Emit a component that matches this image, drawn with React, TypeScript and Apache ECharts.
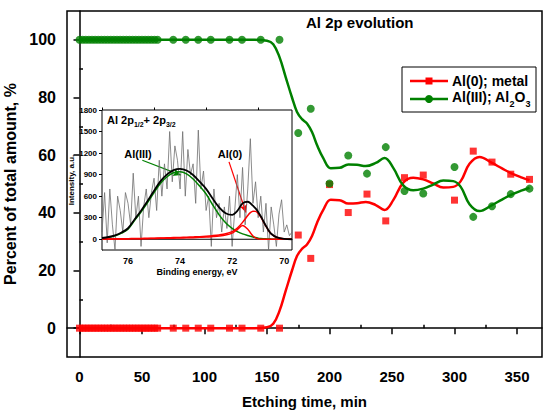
import React, { useEffect, useRef } from "react";
import * as echarts from "echarts";

// ---- Main chart: measured points (etching time, min) ----
const pointTimes = [
  0, 2.5, 5, 7.5, 10, 12.5, 15, 17.5, 20, 22.5, 25, 27.5, 30, 32.5, 35, 37.5, 40, 42.5, 45, 47.5, 50,
  52.5, 55, 57.5, 60, 62.5, 75, 85, 95, 105, 120, 130, 145, 160, 175, 185, 200, 215, 230, 245, 260,
  275, 300, 315, 330, 345, 360,
];
const metalPoints = [
  0, 0, 0, 0, 0, 0, 0, 0, 0, 0, 0, 0, 0, 0, 0, 0, 0, 0, 0, 0, 0, 0, 0, 0, 0, 0, 0, 0, 0, 0, 0, 0, 0, 0,
  32.3, 24.2, 49.8, 40.1, 46.5, 37.2, 52.2, 53.1, 44.4, 61.4, 57.6, 53.4, 51.6,
];
const oxidePoints = [
  100, 100, 100, 100, 100, 100, 100, 100, 100, 100, 100, 100, 100, 100, 100, 100, 100, 100, 100, 100,
  100, 100, 100, 100, 100, 100, 100, 100, 100, 100, 100, 100, 100, 100,
  67.7, 76.1, 50.2, 59.9, 53.6, 62.8, 47.6, 46.7, 55.9, 38.6, 42.3, 46.5, 48.4,
];

// ---- Main chart: smoothed trend curves ----
const curveTimes = [
  0, 140, 150, 155, 160, 165, 170, 174, 178, 182, 186, 190, 195, 201, 208, 215, 222, 229, 237, 244,
  251, 259, 267, 275, 283, 291, 299, 305, 312, 320, 330, 338, 346, 354, 360,
];
const metalCurve = [
  0, 0, 0.3, 1.5, 6, 13, 20, 25, 27.5, 29, 32, 36.5, 41, 44.5, 44.4, 43.2, 43.3, 43.8, 42.7, 41,
  44.4, 50.5, 52.2, 51.6, 50.2, 48.8, 49, 51, 57, 59.4, 57.3, 55.4, 53.6, 52.2, 51.3,
];
const oxideCurve = [
  100, 100, 99.7, 98.5, 94, 87, 80, 75, 72.5, 71, 68, 63.5, 59, 55.5, 55.6, 56.8, 56.7, 56.2, 57.3, 59,
  55.6, 49.5, 47.8, 48.4, 49.8, 51.2, 51, 49, 43, 40.6, 42.7, 44.6, 46.4, 47.8, 48.7,
];

const xMajorTicks = [0, 50, 100, 150, 200, 250, 300, 350];
const xMinorTicks = [25, 75, 125, 175, 225, 275, 325];
const yMajorTicks = [0, 20, 40, 60, 80, 100];
const yMinorTicks = [10, 30, 50, 70, 90];

// ---- Inset: XPS spectrum (binding energy, eV) ----
const rawEnergy = [
  77.0, 76.9, 76.8, 76.7, 76.6, 76.5, 76.4, 76.3, 76.2, 76.1, 76.0, 75.9, 75.8, 75.7, 75.6, 75.5,
  75.4, 75.3, 75.2, 75.1, 75.0, 74.9, 74.8, 74.7, 74.6, 74.5, 74.4, 74.3, 74.2, 74.1, 74.0, 73.9,
  73.8, 73.7, 73.6, 73.5, 73.4, 73.3, 73.2, 73.1, 73.0, 72.9, 72.8, 72.7, 72.6, 72.5, 72.4, 72.3,
  72.2, 72.1, 72.0, 71.9, 71.8, 71.7, 71.6, 71.5, 71.4, 71.3, 71.2, 71.1, 71.0, 70.9, 70.8, 70.7,
  70.6, 70.5, 70.4, 70.3, 70.2, 70.1, 70.0, 69.9, 69.8, 69.7,
];
const rawIntensity = [
  100, 650, -50, 700, 200, -150, 600, 400, 100, 650, 500, 200, 920, 300, 600, -100,
  450, 700, 300, 650, 850, 400, 1100, 600, 1050, 700, 1500, 800, 1300, 1100, 700, 1500,
  600, 1250, 900, 1050, 500, 1520, 700, 950, 400, 600, -100, 700, 300, 500, 100, 450,
  150, 600, -100, 400, 900, 300, 1000, 200, 700, 1400, 500, 800, 300, 600, 100, 500,
  -150, 450, 200, -100, 350, 550, 100, 200, 50, 100,
];
const fitEnergy = [
  77, 76.75, 76.5, 76.25, 76, 75.75, 75.5, 75.25, 75, 74.75, 74.5, 74.25, 74, 73.75, 73.5, 73.25,
  73, 72.75, 72.5, 72.25, 72, 71.8, 71.6, 71.4, 71.3, 71.2, 71.1, 71.0, 70.9, 70.8, 70.7, 70.6,
  70.5, 70.3, 70.0, 69.7,
];
const fitAl3 = [
  12, 25, 47, 84, 140, 260, 380, 510, 650, 780, 870, 925, 939, 910, 840, 740,
  630, 480, 340, 230, 150, 105, 75, 52, 42, 32, 24, 15, 10, 7, 5, 3,
  2, 1, 0, 0,
];
const fitAl0a = [
  3, 4, 5, 6, 8, 9, 11, 13, 15, 17, 20, 23, 25, 28, 32, 36,
  42, 50, 60, 75, 105, 155, 235, 330, 370, 390, 388, 360, 310, 245, 180, 120,
  75, 28, 5, 0,
];
const fitAl0b = [
  2, 2, 3, 4, 5, 6, 7, 8, 10, 12, 13, 15, 17, 19, 22, 26,
  30, 37, 45, 58, 85, 135, 190, 140, 90, 45, 18, 5, 0, 0, 0, 0,
  0, 0, 0, 0,
];
const fitEnvelope = [
  17, 31, 55, 94, 153, 275, 398, 531, 675, 809, 903, 963, 981, 957, 894, 802,
  702, 567, 445, 363, 340, 395, 500, 522, 502, 467, 430, 380, 320, 252, 185, 123,
  77, 29, 5, 0,
];
const insetXLabels = [76, 74, 72, 70];
const insetXMinor = [77, 75, 73, 71];
const insetYLabels = [0, 300, 600, 900, 1200, 1500, 1800];

const RED = "#ff0000";
const GREEN = "#008000";
const FONT = "'Liberation Sans', Arial, Helvetica, sans-serif";

const zip = (a: number[], b: number[]) => a.map((v, i) => [v, b[i]]);

export default function App() {
  const ref = useRef<HTMLDivElement>(null);
  useEffect(() => {
    if (!ref.current) return;
    const chart = echarts.init(ref.current, null, { renderer: "svg" });
    const axisLine = { lineStyle: { color: "#000", width: 1.5 } };
    const insetAxisLine = { lineStyle: { color: "#000", width: 1 } };
    const plain = (v: number) => String(v);
    chart.setOption({
      animation: false,
      backgroundColor: "#fff",
      textStyle: { fontFamily: FONT },
      grid: [
        { left: 67, right: 8, top: 11, bottom: 55, show: true, borderColor: "#000", borderWidth: 1.5, backgroundColor: "#fff", outerBoundsMode: "none", containLabel: false },
        { left: 102, top: 110, width: 190, height: 140, show: true, borderColor: "#000", borderWidth: 1, backgroundColor: "#fff", z: 5, outerBoundsMode: "none", containLabel: false },
      ],
      xAxis: [
        {
          type: "value", gridIndex: 0, min: -10, max: 370,
          axisLine, splitLine: { show: false },
          axisTick: { customValues: xMajorTicks, length: 6, lineStyle: { width: 1.5, color: "#000" } },
          axisLabel: { customValues: xMajorTicks, margin: 12, color: "#000", fontSize: 15, fontWeight: "bold", fontFamily: FONT },
          name: "Etching time, min", nameLocation: "middle", nameGap: 37,
          nameTextStyle: { color: "#000", fontSize: 15, fontWeight: "bold", fontFamily: FONT },
        },
        {
          type: "value", gridIndex: 0, min: -10, max: 370,
          axisLine: { show: false }, splitLine: { show: false }, axisLabel: { show: false },
          axisTick: { customValues: xMinorTicks, length: 3.5, lineStyle: { width: 1.5, color: "#000" } },
        },
        {
          type: "value", gridIndex: 1, min: 69.7, max: 77, inverse: true,
          axisLine: insetAxisLine, splitLine: { show: false },
          axisTick: { customValues: insetXLabels, length: 4, lineStyle: { color: "#000" } },
          axisLabel: { customValues: insetXLabels, formatter: plain, margin: 6, color: "#000", fontSize: 9, fontWeight: "bold", fontFamily: FONT },
          name: "Binding energy, eV", nameLocation: "middle", nameGap: 17,
          nameTextStyle: { color: "#000", fontSize: 9, fontWeight: "bold", fontFamily: FONT },
        },
        {
          type: "value", gridIndex: 1, min: 69.7, max: 77, inverse: true,
          axisLine: { show: false }, splitLine: { show: false }, axisLabel: { show: false },
          axisTick: { customValues: insetXMinor, length: 2.5, lineStyle: { color: "#000" } },
        },
      ],
      yAxis: [
        {
          type: "value", gridIndex: 0, min: -10, max: 110,
          axisLine, splitLine: { show: false },
          axisTick: { customValues: yMajorTicks, length: 6, lineStyle: { width: 1.5, color: "#000" } },
          axisLabel: { customValues: yMajorTicks, margin: 11, color: "#000", fontSize: 16, fontWeight: "bold", fontFamily: FONT },
          name: "Percent of total amount, %", nameLocation: "middle", nameGap: 41,
          nameTextStyle: { color: "#000", fontSize: 16, fontWeight: "bold", fontFamily: FONT },
        },
        {
          type: "value", gridIndex: 0, min: -10, max: 110,
          axisLine: { show: false }, splitLine: { show: false }, axisLabel: { show: false },
          axisTick: { customValues: yMinorTicks, length: 3.5, lineStyle: { width: 1.5, color: "#000" } },
        },
        {
          type: "value", gridIndex: 1, min: -150, max: 1800,
          axisLine: insetAxisLine, splitLine: { show: false },
          axisTick: { customValues: insetYLabels, length: 3, lineStyle: { color: "#000" } },
          axisLabel: { customValues: insetYLabels, formatter: plain, margin: 5, color: "#000", fontSize: 8, fontWeight: "bold", fontFamily: FONT },
          name: "Intensity, a.u.", nameLocation: "middle", nameGap: 24,
          nameTextStyle: { color: "#000", fontSize: 8, fontWeight: "bold", fontFamily: FONT },
        },
      ],
      series: [
        {
          type: "line", name: "metal curve", xAxisIndex: 0, yAxisIndex: 0, data: zip(curveTimes, metalCurve),
          smooth: 0.4, showSymbol: false, lineStyle: { color: RED, width: 2.5 }, z: 2,
        },
        {
          type: "line", name: "oxide curve", xAxisIndex: 0, yAxisIndex: 0, data: zip(curveTimes, oxideCurve),
          smooth: 0.4, showSymbol: false, lineStyle: { color: GREEN, width: 2.5 }, z: 2,
        },
        {
          type: "scatter", name: "Al(0); metal", xAxisIndex: 0, yAxisIndex: 0, data: zip(pointTimes, metalPoints),
          symbol: "rect", symbolSize: 7, itemStyle: { color: RED }, z: 3,
        },
        {
          type: "scatter", name: "Al(III); Al2O3", xAxisIndex: 0, yAxisIndex: 0, data: zip(pointTimes, oxidePoints),
          symbol: "circle", symbolSize: 8, itemStyle: { color: GREEN }, z: 4,
        },
        // inset
        {
          type: "line", xAxisIndex: 2, yAxisIndex: 2, data: zip(rawEnergy, rawIntensity),
          showSymbol: false, lineStyle: { color: "#6e6e6e", width: 0.8 }, z: 6, clip: true,
        },
        {
          type: "line", xAxisIndex: 2, yAxisIndex: 2, data: [[77, 0], [69.7, 0]],
          showSymbol: false, lineStyle: { color: "#000", width: 1.2 }, z: 7,
        },
        {
          type: "line", xAxisIndex: 2, yAxisIndex: 2, data: zip(fitEnergy, fitAl3),
          smooth: 0.3, showSymbol: false, lineStyle: { color: GREEN, width: 1.5 }, z: 7,
          markLine: {
            silent: true, symbol: ["none", "arrow"], symbolSize: [6, 8], label: { show: false },
            lineStyle: { color: GREEN, width: 1.2, type: "solid" },
            data: [[{ coord: [75.45, 1100] }, { coord: [73.97, 893] }]],
          },
        },
        {
          type: "line", xAxisIndex: 2, yAxisIndex: 2, data: zip(fitEnergy, fitAl0a),
          smooth: 0.3, showSymbol: false, lineStyle: { color: RED, width: 1.5 }, z: 7,
          markLine: {
            silent: true, symbol: ["none", "arrow"], symbolSize: [6, 8], label: { show: false },
            lineStyle: { color: RED, width: 1.2, type: "solid" },
            data: [[{ coord: [72.12, 1078] }, { coord: [71.47, 372] }]],
          },
        },
        {
          type: "line", xAxisIndex: 2, yAxisIndex: 2, data: zip(fitEnergy, fitAl0b),
          smooth: 0.3, showSymbol: false, lineStyle: { color: RED, width: 1.5 }, z: 7,
        },
        {
          type: "line", xAxisIndex: 2, yAxisIndex: 2, data: zip(fitEnergy, fitEnvelope),
          smooth: 0.3, showSymbol: false, lineStyle: { color: "#000", width: 1.8 }, z: 8,
        },
      ],
      graphic: [
        {
          type: "text", left: 306, top: 15, z: 20,
          style: { text: "Al 2p evolution", font: `bold 15px ${FONT}`, fill: "#000" },
        },
        {
          type: "group", z: 20,
          children: [
            { type: "rect", shape: { x: 402, y: 67, width: 134, height: 45 }, style: { fill: "#fff", stroke: "#000", lineWidth: 1 } },
            { type: "line", shape: { x1: 410, y1: 81, x2: 448, y2: 81 }, style: { stroke: RED, lineWidth: 2.5 } },
            { type: "rect", shape: { x: 425.5, y: 77.5, width: 7, height: 7 }, style: { fill: RED } },
            {
              type: "text", x: 452, y: 81,
              style: { text: "Al(0); metal", font: `bold 14px ${FONT}`, fill: "#000", verticalAlign: "middle" },
            },
            { type: "line", shape: { x1: 410, y1: 99, x2: 448, y2: 99 }, style: { stroke: GREEN, lineWidth: 2.5 } },
            { type: "circle", shape: { cx: 429, cy: 99, r: 4 }, style: { fill: GREEN } },
            {
              type: "text", x: 452, y: 99,
              style: {
                text: "{n|Al(III); Al}{s|2}{n|O}{s|3}", verticalAlign: "middle", fill: "#000",
                rich: {
                  n: { fontSize: 14, fontWeight: "bold", fontFamily: FONT, lineHeight: 18, verticalAlign: "top" },
                  s: { fontSize: 9, fontWeight: "bold", fontFamily: FONT, lineHeight: 18, verticalAlign: "bottom" },
                },
              },
            },
          ],
        },
        {
          type: "text", x: 107, y: 121, z: 20,
          style: {
            text: "{n|Al 2p}{s|1/2}{n|+ 2p}{s|3/2}", verticalAlign: "middle", fill: "#000",
            rich: {
              n: { fontSize: 11, fontWeight: "bold", fontFamily: FONT, lineHeight: 14, verticalAlign: "top" },
              s: { fontSize: 7, fontWeight: "bold", fontFamily: FONT, lineHeight: 14, verticalAlign: "bottom" },
            },
          },
        },
        {
          type: "text", x: 138, y: 154, z: 20,
          style: { text: "Al(III)", font: `bold 11px ${FONT}`, fill: "#000", align: "center", verticalAlign: "middle" },
        },
        {
          type: "text", x: 230, y: 154, z: 20,
          style: { text: "Al(0)", font: `bold 11px ${FONT}`, fill: "#000", align: "center", verticalAlign: "middle" },
        },
      ],
    });
    return () => chart.dispose();
  }, []);
  return <div ref={ref} style={{ position: "fixed", left: 0, top: 0, width: 550, height: 412 }} />;
}
